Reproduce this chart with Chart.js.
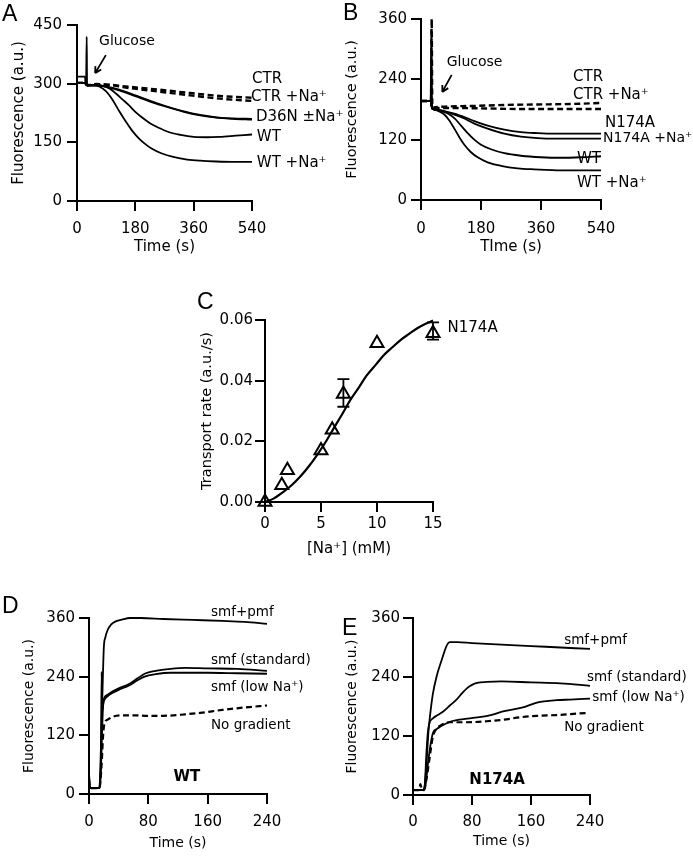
<!DOCTYPE html>
<html><head><meta charset="utf-8">
<script src="https://cdn.jsdelivr.net/npm/chart.js@4.4.1/dist/chart.umd.min.js"></script>
<style>
html,body{margin:0;padding:0;background:#fff;}
body{width:693px;height:856px;position:relative;overflow:hidden;}
canvas{position:absolute;}
.lt{position:absolute;font-family:'Liberation Sans',Arial,sans-serif;font-size:23px;line-height:1;color:#000;}
</style></head><body>
<canvas id="cA" width="345" height="265" style="left:0;top:0"></canvas>
<canvas id="cB" width="353" height="265" style="left:340px;top:0"></canvas>
<canvas id="cC" width="360" height="285" style="left:180px;top:280px"></canvas>
<canvas id="cD" width="340" height="286" style="left:0;top:570px"></canvas>
<canvas id="cE" width="353" height="286" style="left:340px;top:570px"></canvas>
<div class="lt" style="left:2px;top:2px">A</div>
<div class="lt" style="left:343px;top:1px">B</div>
<div class="lt" style="left:197px;top:290px">C</div>
<div class="lt" style="left:2px;top:594px">D</div>
<div class="lt" style="left:342px;top:616px">E</div>
<script>
// ---------- Panel A: Time (s) vs Fluorescence (a.u.) ----------
const A_xTicks = [0, 180, 360, 540];
const A_yTicks = [0, 150, 300, 450];
const A_CTR = [[0,302],[29,302],[31,296],[40,297],[60,299],[90,298],[150,293],[250,285],[350,276],[450,268],[540,264]];
const A_CTR_Na = [[0,302],[29,302],[31,296],[60,297],[90,297],[150,290],[250,280],[350,270],[450,261],[540,256]];
const A_D36N = [[0,302],[29,302],[31,296],[60,296],[90,293],[130,285],[180,270],[230,255],[280,241],[330,229],[380,220],[430,214],[480,211],[540,210]];
const A_D36N_Na = [[0,318],[25,318],[26,298],[31,296],[60,296],[90,292],[130,283],[180,268],[230,253],[280,240],[330,228],[380,219],[430,213],[480,210],[540,208]];
const A_WT = [[0,302],[28,302],[30,420],[31,296],[60,296],[80,294],[100,288],[120,275],[140,260],[160,245],[180,228],[200,214],[225,199],[250,188],[280,177],[320,169],[360,164],[400,163],[440,164],[490,167],[540,170]];
const A_WT_Na = [[0,302],[29,302],[31,296],[50,296],[70,292],[90,280],[110,258],[130,230],[150,204],[170,180],[190,161],[210,146],[230,134],[260,122],[300,112],[340,106],[380,103],[430,101],[480,100],[540,100]];

// ---------- Panel B ----------
const B_xTicks = [0, 180, 360, 540];
const B_yTicks = [0, 120, 240, 360];
const B_CTR = [[0,197],[30,197],[32,360],[34,183],[40,184],[80,186],[150,187],[250,189],[350,190],[450,191],[540,193]];
const B_CTR_Na = [[0,197],[30,197],[32,183],[40,183],[100,183],[200,182],[300,181],[400,181],[540,181]];
const B_N174A = [[0,197],[29,197],[31,338],[33,182],[40,180],[70,177],[100,172],[130,165],[160,157],[200,148],[250,140],[300,135],[350,133],[400,132],[540,132]];
const B_N174A_Na = [[0,197],[30,197],[33,182],[40,180],[70,176],[100,170],[130,162],[160,152],[200,142],[250,132],[300,126],[350,123],[400,122],[540,122]];
const B_WT = [[0,197],[30,197],[33,182],[40,180],[60,177],[80,172],[100,163],[120,148],[140,133],[160,120],[180,110],[210,101],[250,93],[300,88],[360,85],[420,84],[480,85],[540,87]];
const B_WT_Na = [[0,197],[30,197],[33,182],[40,180],[55,176],[70,170],[85,158],[100,142],[115,125],[130,110],[150,95],[170,85],[200,75],[240,68],[290,63],[340,61],[420,59],[540,59]];

// ---------- Panel C: [Na+] (mM) vs transport rate ----------
const C_xTicks = [0, 5, 10, 15];
const C_yTicks = [0, 0.02, 0.04, 0.06];
const C_na = [0, 1.5, 2, 5, 6, 7, 10, 15];
const C_rate = [0, 0.0055, 0.0105, 0.017, 0.0238, 0.0356, 0.0523, 0.0556];
const C_fitNa = [0, 0.8, 1.64, 2.4, 3.13, 3.9, 4.63, 5.4, 6.12, 6.9, 7.61, 8.4, 9.1, 9.9, 10.6, 11.4, 12.1, 12.9, 13.6, 14.3, 15];
const C_fitRate = [0, 0.0012, 0.0033, 0.0056, 0.0083, 0.0117, 0.0154, 0.0197, 0.0242, 0.029, 0.0336, 0.0379, 0.0418, 0.0453, 0.0484, 0.0511, 0.0534, 0.0555, 0.0573, 0.0587, 0.0598];
const C_errNa = [7, 15];
const C_errLo = [0.0314, 0.0535];
const C_errHi = [0.0405, 0.0592];

// ---------- Panel D (WT) ----------
const D_xTicks = [0, 80, 160, 240];
const D_yTicks = [0, 120, 240, 360];
const D_pmf = [[0,45],[1,15],[4,12],[14,12],[15,40],[18,200],[20,300],[22,320],[25,335],[30,347],[36,353],[45,357],[55,360],[70,360],[100,358],[140,356],[180,354],[210,352],[240,348]];
const D_std = [[0,40],[1,14],[4,12],[14,12],[16,60],[17,250],[18,170],[20,195],[25,203],[32,210],[40,216],[54,225],[65,236],[75,246],[90,252],[110,256],[130,258],[160,257],[200,256],[240,252]];
const D_low = [[0,35],[1,13],[4,12],[14,12],[16,50],[19,180],[21,193],[25,200],[32,207],[40,213],[54,222],[65,232],[75,240],[90,245],[110,248],[130,248],[160,248],[200,247],[240,246]];
const D_none = [[0,30],[1,13],[4,12],[14,12],[17,60],[19,120],[21,145],[25,152],[32,158],[45,161],[60,161],[80,160],[100,160],[130,163],[150,166],[180,172],[210,177],[240,181]];

// ---------- Panel E (N174A) ----------
const E_xTicks = [0, 80, 160, 240];
const E_yTicks = [0, 120, 240, 360];
const E_pmf = [[0,10],[14,10],[16,20],[19,80],[21,130],[23,160],[27,206],[32,241],[39,275],[46,305],[50,311],[60,311],[80,309],[120,306],[160,303],[200,300],[240,297]];
const E_std = [[0,10],[14,10],[16,20],[18,80],[20,125],[22,145],[27,156],[34,163],[41,170],[50,182],[59,194],[66,206],[73,217],[80,224],[87,228],[100,230],[120,231],[160,229],[200,227],[240,222]];
const E_low = [[0,10],[14,10],[17,20],[20,60],[23,95],[27,126],[32,134],[37,139],[50,149],[77,156],[104,162],[122,170],[149,178],[168,188],[195,193],[213,194],[240,196]];
const E_none = [[0,10],[8,10],[10,22],[12,12],[15,10],[18,30],[22,70],[27,119],[32,135],[37,141],[50,148],[73,148],[100,150],[122,153],[145,158],[168,161],[200,163],[226,166],[238,167]];

const FONT = 'DejaVu Sans';
Chart.defaults.font.family = FONT;
Chart.defaults.color = '#000';

const pts = arr => arr.map(p => ({x: p[0], y: p[1]}));
const zip = (xs, ys) => xs.map((x, i) => ({x: x, y: ys[i]}));

function line(data, dashed, width) {
  return {type: 'line', data: data, borderColor: '#000', borderWidth: width || 1.8,
    borderDash: dashed ? [6, 3.5] : [], pointRadius: 0, fill: false, tension: 0,
    cubicInterpolationMode: 'monotone', clip: false};
}

function axis(horizontal, min, max, ticks, title, o) {
  return {
    type: 'linear', min: min, max: max,
    afterBuildTicks: s => { s.ticks = ticks.map(v => ({value: v})); },
    ticks: {color: '#000', font: {family: FONT, size: 15}, padding: o.tickPad,
      autoSkip: false, maxRotation: 0, callback: o.fmt || (v => String(v))},
    grid: {display: true, drawOnChartArea: false, drawTicks: true, tickLength: 10, color: '#000', lineWidth: 2},
    border: {display: true, color: '#000', width: 2},
    title: {display: true, text: title, color: '#000', font: {family: FONT, size: o.titleSize},
      padding: horizontal ? {top: 0, bottom: o.titlePad} : {top: o.titlePad, bottom: 0}},
    afterFit: s => {
      if (horizontal) s.height = o.size; else s.width = o.size;
      s.paddingLeft = 0; s.paddingRight = 0; s.paddingTop = 0; s.paddingBottom = 0;
    }
  };
}

function annotPlugin(cfg) {
  return {
    id: 'annot',
    afterDatasetsDraw(chart) {
      const ctx = chart.ctx, xs = chart.scales.x, ys = chart.scales.y;
      ctx.save();
      ctx.strokeStyle = '#000'; ctx.fillStyle = '#000';
      (cfg.errs || []).forEach(e => {
        const x = xs.getPixelForValue(e.x), y1 = ys.getPixelForValue(e.lo), y2 = ys.getPixelForValue(e.hi);
        ctx.lineWidth = 1.8; ctx.beginPath();
        ctx.moveTo(x, y1); ctx.lineTo(x, y2);
        ctx.moveTo(x - 6, y1); ctx.lineTo(x + 6, y1);
        ctx.moveTo(x - 6, y2); ctx.lineTo(x + 6, y2);
        ctx.stroke();
      });
      (cfg.arrows || []).forEach(a => {
        const x1 = xs.getPixelForValue(a.x1), y1 = ys.getPixelForValue(a.y1);
        const x2 = xs.getPixelForValue(a.x2), y2 = ys.getPixelForValue(a.y2);
        const ang = Math.atan2(y2 - y1, x2 - x1), L = 7;
        ctx.lineWidth = 1.8; ctx.beginPath();
        ctx.moveTo(x1, y1); ctx.lineTo(x2, y2);
        ctx.moveTo(x2, y2); ctx.lineTo(x2 - L * Math.cos(ang - 0.5), y2 - L * Math.sin(ang - 0.5));
        ctx.moveTo(x2, y2); ctx.lineTo(x2 - L * Math.cos(ang + 0.5), y2 - L * Math.sin(ang + 0.5));
        ctx.stroke();
      });
      (cfg.texts || []).forEach(t => {
        ctx.font = (t.bold ? 'bold ' : '') + t.size + 'px "' + FONT + '"';
        ctx.textAlign = t.align || 'left'; ctx.textBaseline = 'middle';
        ctx.fillText(t.text, xs.getPixelForValue(t.x), ys.getPixelForValue(t.y));
      });
      ctx.restore();
    }
  };
}

function panel(id, rect, area, datasets, sx, sy, cfg) {
  new Chart(document.getElementById(id), {
    type: 'line',
    data: {datasets: datasets},
    options: {
      responsive: false, animation: false, parsing: false,
      layout: {padding: {left: 0, top: area.t - rect.t, right: rect.l + rect.w - area.r, bottom: 0}},
      plugins: {legend: {display: false}, tooltip: {enabled: false}},
      scales: {x: sx, y: sy}
    },
    plugins: [annotPlugin(cfg)]
  });
}

// Panel A
panel('cA', {l: 0, t: 0, w: 345, h: 265}, {l: 77, t: 25, r: 252, b: 201},
  [line(pts(A_CTR), true, 2.4), line(pts(A_CTR_Na), true, 2.4), line(pts(A_D36N)), line(pts(A_D36N_Na)), line(pts(A_WT)), line(pts(A_WT_Na))],
  axis(true, 0, 540, A_xTicks, 'Time (s)', {size: 64, tickPad: 9.5, titleSize: 15, titlePad: 9}),
  axis(false, 0, 450, A_yTicks, 'Fluorescence (a.u.)', {size: 77, tickPad: 5, titleSize: 15, titlePad: 10}),
  {texts: [
    {x: 68, y: 407, text: 'Glucose', size: 14},
    {x: 540, y: 312, text: 'CTR', size: 15},
    {x: 537, y: 266, text: 'CTR +Na⁺', size: 15},
    {x: 552, y: 215, text: 'D36N ±Na⁺', size: 15},
    {x: 555, y: 164, text: 'WT', size: 15},
    {x: 555, y: 97, text: 'WT +Na⁺', size: 15}],
   arrows: [{x1: 89, y1: 373, x2: 56, y2: 327}]});

// Panel B
panel('cB', {l: 340, t: 0, w: 353, h: 265}, {l: 421, t: 19, r: 601, b: 200},
  [line(pts(B_CTR), true, 2.4), line(pts(B_CTR_Na), true, 2.4), line(pts(B_N174A)), line(pts(B_N174A_Na)), line(pts(B_WT)), line(pts(B_WT_Na))],
  axis(true, 0, 540, B_xTicks, 'TIme (s)', {size: 65, tickPad: 10, titleSize: 15, titlePad: 9}),
  axis(false, 0, 360, B_yTicks, 'Fluorescence (a.u.)', {size: 81, tickPad: 4, titleSize: 14.5, titlePad: 3.8}),
  {texts: [
    {x: 77, y: 273, text: 'Glucose', size: 14},
    {x: 456, y: 245, text: 'CTR', size: 15},
    {x: 456, y: 209, text: 'CTR +Na⁺', size: 15},
    {x: 552, y: 153, text: 'N174A', size: 15},
    {x: 546, y: 123, text: 'N174A +Na⁺', size: 14},
    {x: 468, y: 82, text: 'WT', size: 15},
    {x: 468, y: 34, text: 'WT +Na⁺', size: 15}],
   arrows: [{x1: 92, y1: 249, x2: 64, y2: 215}]});

// Panel C
panel('cC', {l: 180, t: 280, w: 360, h: 285}, {l: 265, t: 320, r: 433, b: 502},
  [line(zip(C_fitNa, C_fitRate), false, 2.2),
   {type: 'scatter', data: zip(C_na, C_rate), showLine: false, pointStyle: 'triangle', pointRadius: 7.5,
    pointBorderWidth: 2, pointBorderColor: '#000', pointBackgroundColor: 'rgba(255,255,255,0)', clip: false}],
  axis(true, 0, 15, C_xTicks, '[Na⁺] (mM)', {size: 63, tickPad: 3, titleSize: 15, titlePad: 7}),
  axis(false, 0, 0.06, C_yTicks, 'Transport rate (a.u./s)', {size: 85, tickPad: 2, titleSize: 14.5, titlePad: 18.8, fmt: v => v.toFixed(2)}),
  {texts: [{x: 16.3, y: 0.0574, text: 'N174A', size: 15}],
   errs: C_errNa.map((x, i) => ({x: x, lo: C_errLo[i], hi: C_errHi[i]}))});

// Panel D
panel('cD', {l: 0, t: 570, w: 340, h: 286}, {l: 89, t: 618, r: 267, b: 794},
  [line(pts(D_pmf)), line(pts(D_std)), line(pts(D_low)), line(pts(D_none), true, 2.2)],
  axis(true, 0, 240, D_xTicks, 'Time (s)', {size: 62, tickPad: 9.5, titleSize: 14, titlePad: 4.6}),
  axis(false, 0, 360, D_yTicks, 'Fluorescence (a.u.)', {size: 89, tickPad: 4, titleSize: 14, titlePad: 20.6}),
  {texts: [
    {x: 164.5, y: 372, text: 'smf+pmf', size: 13.5},
    {x: 164.5, y: 274, text: 'smf (standard)', size: 13.5},
    {x: 164.5, y: 217, text: 'smf (low Na⁺)', size: 13.5},
    {x: 164.5, y: 141, text: 'No gradient', size: 13.5},
    {x: 132, y: 35, text: 'WT', size: 15, bold: true, align: 'center'}]});

// Panel E
panel('cE', {l: 340, t: 570, w: 353, h: 286}, {l: 413, t: 618, r: 590, b: 795},
  [line(pts(E_pmf)), line(pts(E_std)), line(pts(E_low)), line(pts(E_none), true, 2.2)],
  axis(true, 0, 240, E_xTicks, 'Time (s)', {size: 61, tickPad: 8.5, titleSize: 14, titlePad: 6.6}),
  axis(false, 0, 360, E_yTicks, 'Fluorescence (a.u.)', {size: 73, tickPad: 3, titleSize: 14, titlePad: 4.1}),
  {texts: [
    {x: 205, y: 315, text: 'smf+pmf', size: 13.5},
    {x: 236, y: 240, text: 'smf (standard)', size: 13.5},
    {x: 243, y: 199, text: 'smf (low Na⁺)', size: 13.5},
    {x: 205, y: 138, text: 'No gradient', size: 13.5},
    {x: 114, y: 30, text: 'N174A', size: 15, bold: true, align: 'center'}]});
</script>
</body></html>
